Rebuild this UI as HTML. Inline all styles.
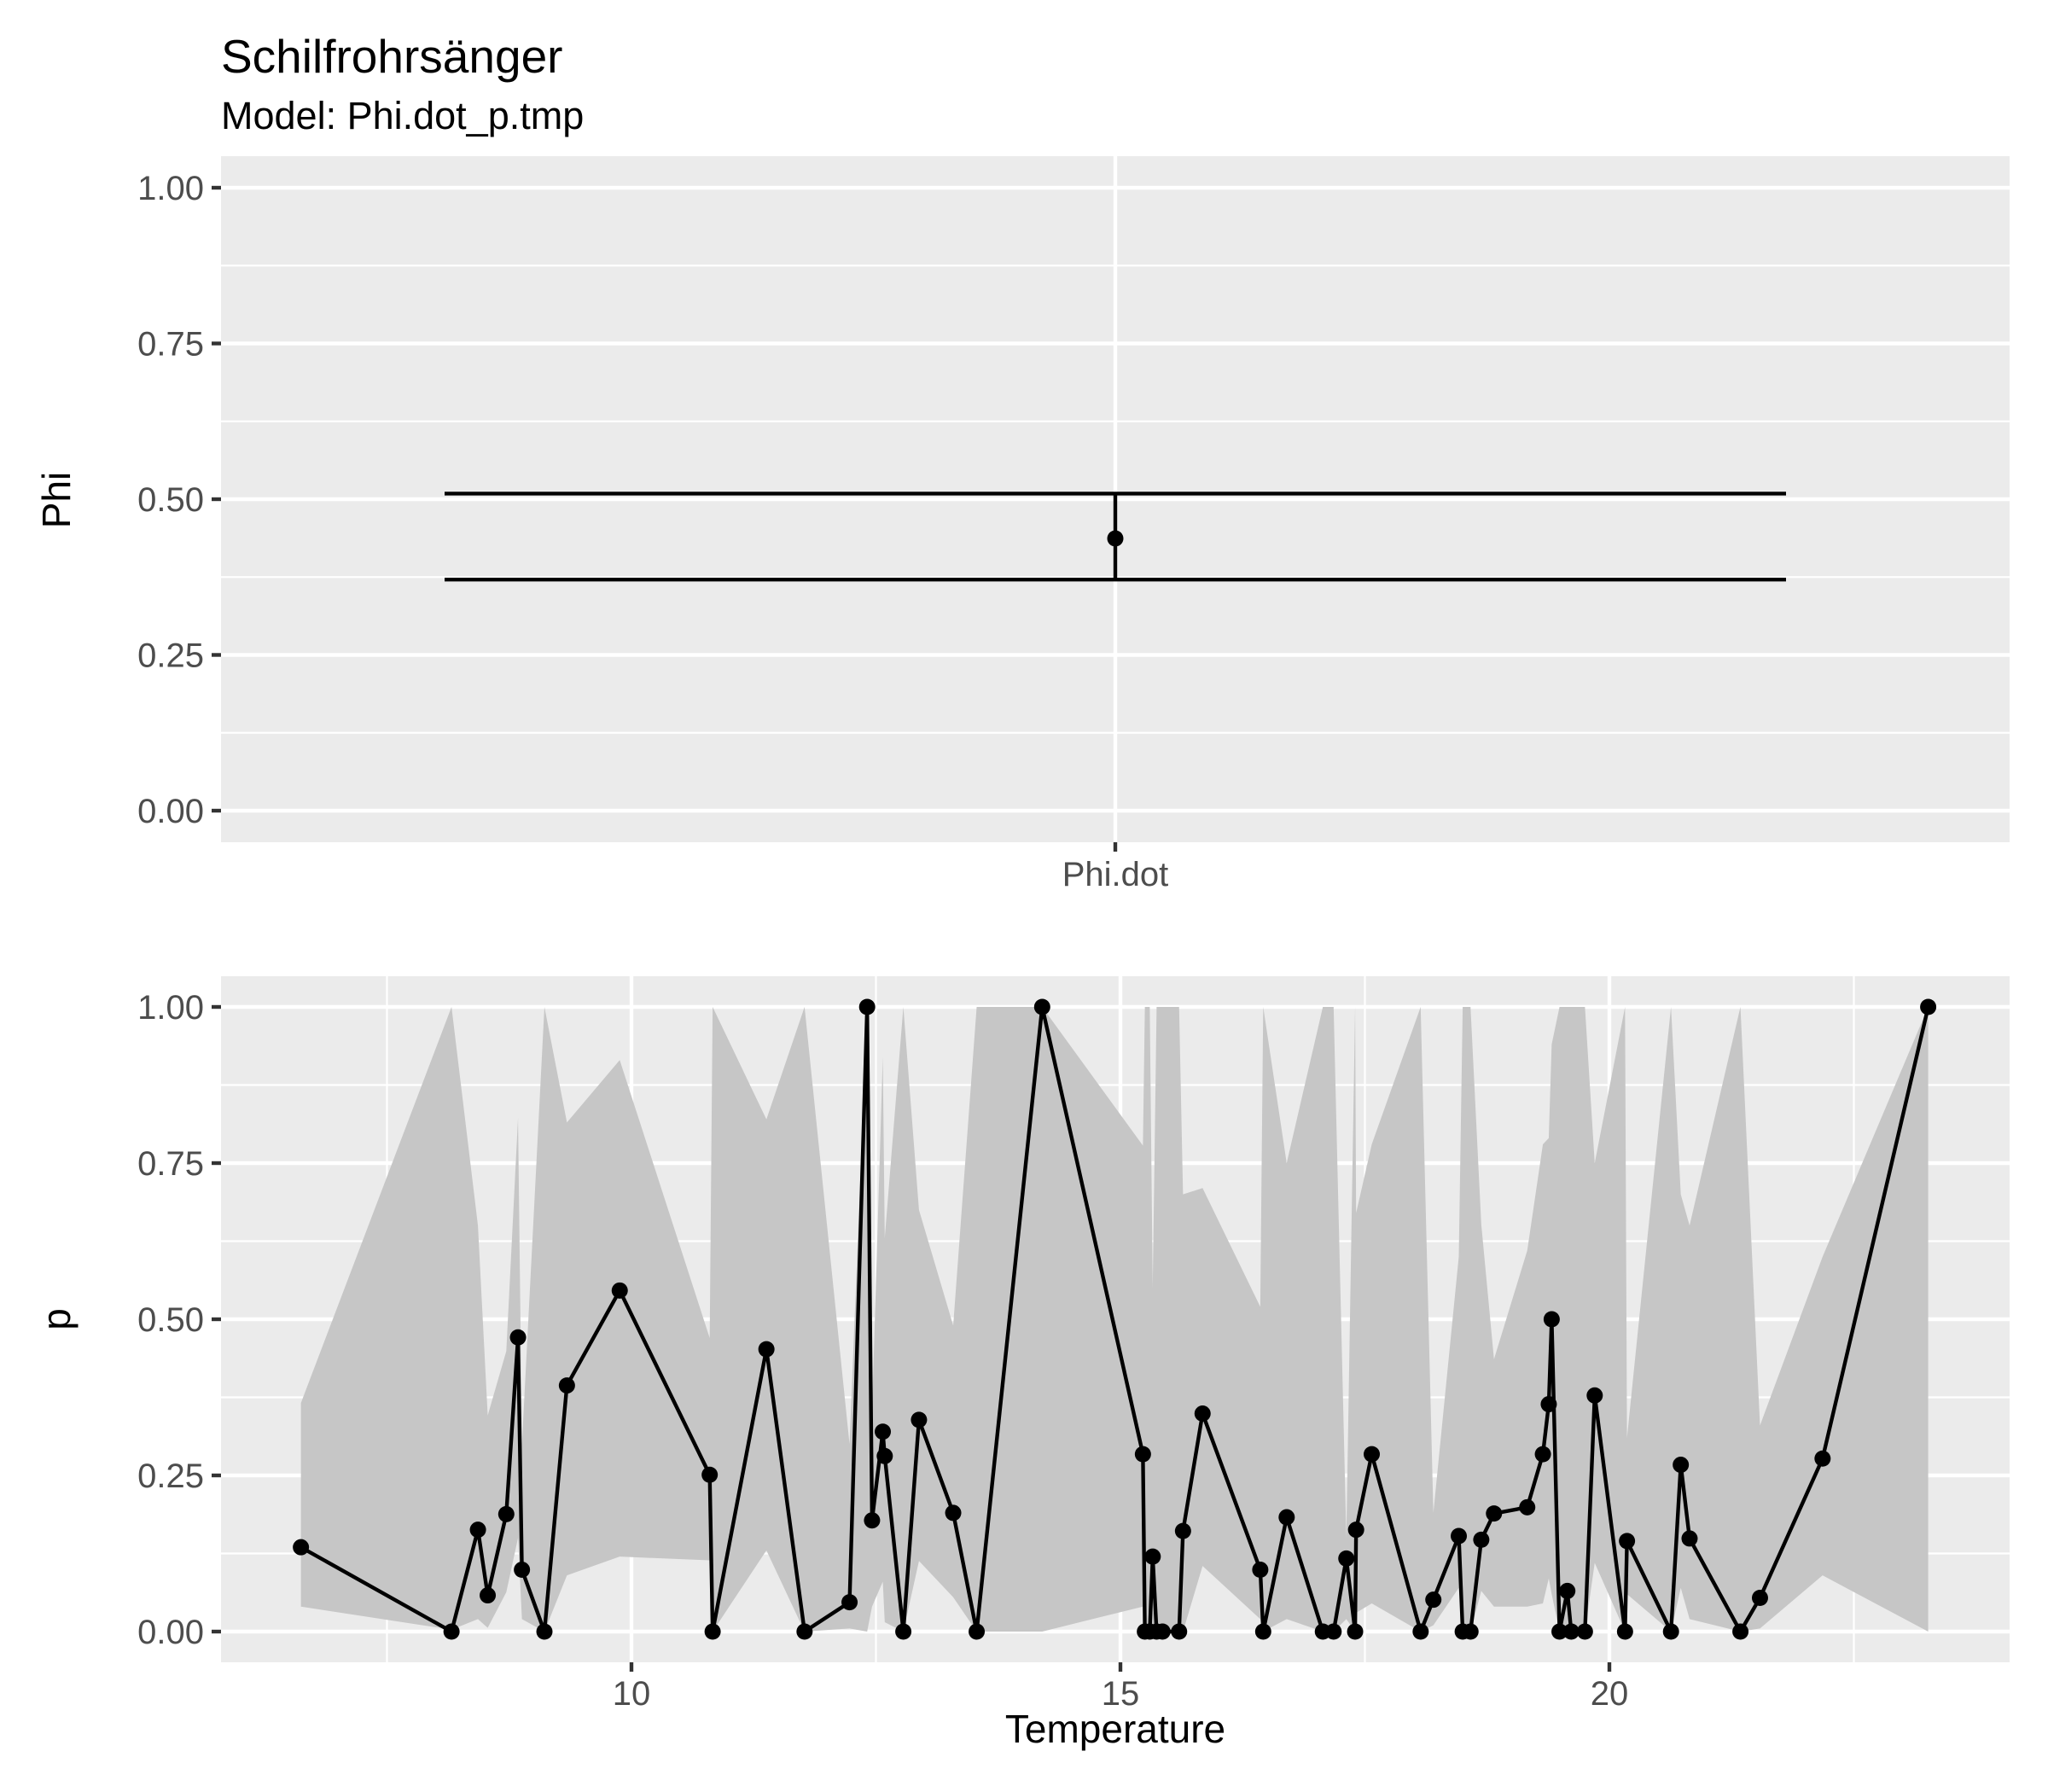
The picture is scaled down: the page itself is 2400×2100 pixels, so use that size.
<!DOCTYPE html>
<html><head><meta charset="utf-8"><style>
html,body{margin:0;padding:0;background:#fff;}
svg{display:block;font-family:"Liberation Sans",Arial,sans-serif;}
</style></head><body>
<svg id="chart" width="2400" height="2100" viewBox="0 0 2400 2100" xmlns="http://www.w3.org/2000/svg">
<rect width="2400" height="2100" fill="#fff"/>
<text x="259" y="85" font-size="55" fill="#000">Schilfrohrsänger</text>
<text x="259" y="151" font-size="45" fill="#000">Model: Phi.dot_p.tmp</text>
<g id="topPanel"></g>
<g id="botPanel"></g>
<text transform="translate(82,586) rotate(-90)" text-anchor="middle" font-size="46" fill="#000">Phi</text>
<text transform="translate(82,1546) rotate(-90)" text-anchor="middle" font-size="46" fill="#000">p</text>
<text x="1307" y="2042" text-anchor="middle" font-size="46" fill="#000">Temperature</text>
</svg>
<script>
// Top panel data
const phiLabels = ["Phi.dot"];
const phiEst = [0.437];
const phiLcl = [0.371];
const phiUcl = [0.509];
// Bottom panel data
const temps = [6.62,8.16,8.43,8.53,8.72,8.84,8.88,9.11,9.34,9.88,10.80,10.83,11.38,11.77,12.23,12.41,12.46,12.57,12.59,12.78,12.94,13.29,13.53,14.20,15.23,15.25,15.30,15.33,15.37,15.43,15.60,15.64,15.84,16.43,16.46,16.70,17.07,17.18,17.31,17.40,17.41,17.57,18.07,18.20,18.46,18.50,18.58,18.69,18.82,19.16,19.32,19.38,19.41,19.49,19.57,19.61,19.75,19.85,20.16,20.18,20.63,20.73,20.82,21.34,21.54,22.18,23.26];
const pEst = [0.135,0,0.163,0.058,0.188,0.471,0.099,0,0.394,0.546,0.251,0,0.452,0,0.047,1.0,0.178,0.320,0.281,0,0.339,0.190,0,1.0,0.284,0,0,0.120,0,0,0,0.161,0.349,0.099,0,0.183,0,0,0.117,0,0.163,0.284,0,0.051,0.153,0,0,0.147,0.189,0.199,0.284,0.364,0.5,0,0.065,0,0,0.378,0,0.145,0,0.267,0.149,0,0.054,0.277,1.0];
const pLcl = [0.04,0.003,0.02,0.006,0.063,0.15,0.02,0,0.09,0.12,0.114,0,0.13,0,0.005,0,0.04,0.08,0.015,0,0.113,0.055,0,0,0.04,0,0,0,0,0,0,0,0.105,0.02,0,0.02,0,0,0.02,0,0.03,0.045,0,0.01,0.07,0,0,0.065,0.04,0.04,0.045,0.085,0.06,0,0.01,0,0,0.11,0,0.06,0,0.07,0.02,0,0.005,0.09,0];
const pUcl = [0.366,1.0,0.65,0.346,0.449,0.822,0.3,1.0,0.815,0.915,0.47,1.0,0.82,1.0,0.3,1.0,0.35,0.92,0.63,1.0,0.675,0.49,1.0,1.0,0.778,1.0,1.0,0.55,1.0,1.0,1.0,0.70,0.71,0.52,1.0,0.75,1.0,1.0,0.15,1.0,0.67,0.78,1.0,0.19,0.6,1.0,1.0,0.652,0.436,0.61,0.78,0.79,0.94,1.0,1.0,1.0,1.0,0.75,1.0,0.31,1.0,0.70,0.65,1.0,0.33,0.60,1.0];
const yTicks = [0,0.25,0.5,0.75,1.0];
const yTickLabels = ["0.00","0.25","0.50","0.75","1.00"];
const yMinor = [0.125,0.375,0.625,0.875];
const xTicks = [10,15,20];
const xTickLabels = ["10","15","20"];
const xMinor = [7.5,12.5,17.5,22.5];

const NS="http://www.w3.org/2000/svg";
function mk(parent,tag,attrs){const e=document.createElementNS(NS,tag);for(const k in attrs)e.setAttribute(k,attrs[k]);parent.appendChild(e);return e;}
const L=259,R=2355;
const topY=v=>950-v*730;
const topX=i=>(L+R)/2;
const botY=v=>1912-v*732;
const botX=v=>1313+(v-15)*114.6;

const topG=document.getElementById('topPanel');
let r=mk(topG,'rect',{x:L,y:183,width:R-L,height:804,fill:'#EBEBEB'});


yMinor.forEach(v=>{const l=mk(topG,'line',{x1:L,x2:R,y1:topY(v),y2:topY(v),stroke:'#fff','stroke-width':2.2});

});
yTicks.forEach((v,i)=>{const l=mk(topG,'line',{x1:L,x2:R,y1:topY(v),y2:topY(v),stroke:'#fff','stroke-width':4.4});


const t=mk(topG,'line',{x1:L-11,x2:L,y1:topY(v),y2:topY(v),stroke:'#333','stroke-width':4.4});


const tx=mk(topG,'text',{x:L-20,y:topY(v)+14,'text-anchor':'end','font-size':40,fill:'#4D4D4D'});tx.textContent=yTickLabels[i];

});
phiLabels.forEach((lab,i)=>{const x=topX(i);
const g=mk(topG,'line',{x1:x,x2:x,y1:183,y2:987,stroke:'#fff','stroke-width':4.4});


const t=mk(topG,'line',{x1:x,x2:x,y1:987,y2:998,stroke:'#333','stroke-width':4.4});


const tx=mk(topG,'text',{x:x,y:1038,'text-anchor':'middle','font-size':40,fill:'#4D4D4D'});tx.textContent=lab;


const hw=786;
const e=mk(topG,'path',{d:`M${x-hw},${topY(phiUcl[i])}H${x+hw}M${x},${topY(phiUcl[i])}V${topY(phiLcl[i])}M${x-hw},${topY(phiLcl[i])}H${x+hw}`,stroke:'#000','stroke-width':4.4,fill:'none'});


const c=mk(topG,'circle',{cx:x,cy:topY(phiEst[i]),r:9.5,fill:'#000'});

});

const botG=document.getElementById('botPanel');
r=mk(botG,'rect',{x:L,y:1144,width:R-L,height:804,fill:'#EBEBEB'});


yMinor.forEach(v=>{const l=mk(botG,'line',{x1:L,x2:R,y1:botY(v),y2:botY(v),stroke:'#fff','stroke-width':2.2});

});
xMinor.forEach(v=>{const l=mk(botG,'line',{x1:botX(v),x2:botX(v),y1:1144,y2:1948,stroke:'#fff','stroke-width':2.2});

});
yTicks.forEach((v,i)=>{const l=mk(botG,'line',{x1:L,x2:R,y1:botY(v),y2:botY(v),stroke:'#fff','stroke-width':4.4});


const t=mk(botG,'line',{x1:L-11,x2:L,y1:botY(v),y2:botY(v),stroke:'#333','stroke-width':4.4});


const tx=mk(botG,'text',{x:L-20,y:botY(v)+14,'text-anchor':'end','font-size':40,fill:'#4D4D4D'});tx.textContent=yTickLabels[i];

});
xTicks.forEach((v,i)=>{const x=botX(v);
const l=mk(botG,'line',{x1:x,x2:x,y1:1144,y2:1948,stroke:'#fff','stroke-width':4.4});


const t=mk(botG,'line',{x1:x,x2:x,y1:1948,y2:1959,stroke:'#333','stroke-width':4.4});


const tx=mk(botG,'text',{x:x,y:1998,'text-anchor':'middle','font-size':40,fill:'#4D4D4D'});tx.textContent=xTickLabels[i];

});
let d='M'+temps.map((t,i)=>botX(t)+','+botY(pUcl[i])).join('L');
for(let i=temps.length-1;i>=0;i--) d+='L'+botX(temps[i])+','+botY(pLcl[i]);
d+='Z';
const rib=mk(botG,'path',{d:d,fill:'#C6C6C6',stroke:'none'});


const ln=mk(botG,'polyline',{points:temps.map((t,i)=>botX(t)+','+botY(pEst[i])).join(' '),fill:'none',stroke:'#000','stroke-width':4.4,'stroke-linejoin':'round'});


temps.forEach((t,i)=>{const c=mk(botG,'circle',{cx:botX(t),cy:botY(pEst[i]),r:9.5,fill:'#000'});

});
</script>
</body></html>
